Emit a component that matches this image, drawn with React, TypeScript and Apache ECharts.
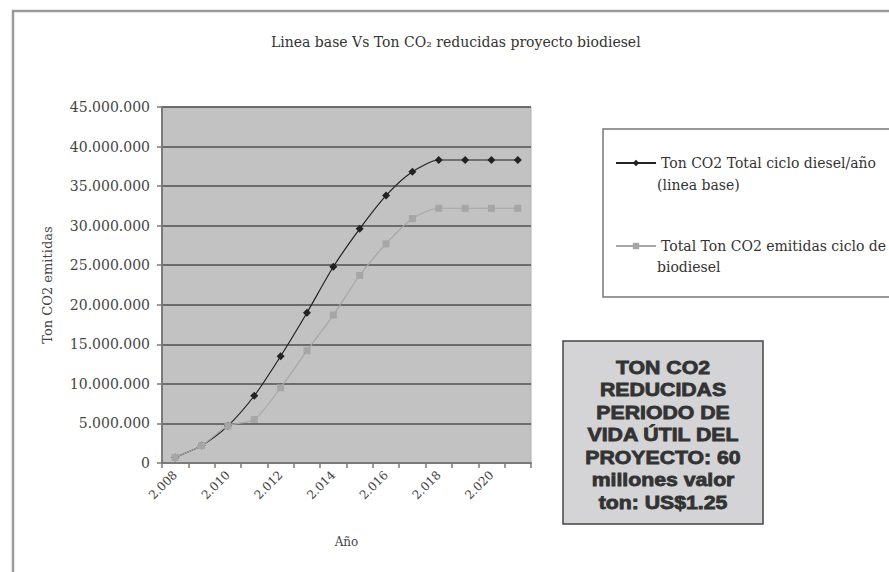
import React, { useEffect, useRef } from "react";
import * as echarts from "echarts";

const years = [2008, 2009, 2010, 2011, 2012, 2013, 2014, 2015, 2016, 2017, 2018, 2019, 2020, 2021];
const lineaBase = [700000, 2200000, 4700000, 8500000, 13500000, 19000000, 24800000, 29600000, 33800000, 36800000, 38300000, 38300000, 38300000, 38300000];
const biodiesel = [700000, 2200000, 4700000, 5500000, 9500000, 14200000, 18700000, 23700000, 27700000, 30900000, 32200000, 32200000, 32200000, 32200000];
const seriesNames = ["Ton CO2 Total ciclo diesel/año", "Total Ton CO2 emitidas ciclo de"];
const legendContinuations = ["(linea base)", "biodiesel"];
const noteLines = ["TON CO2", "REDUCIDAS", "PERIODO DE", "VIDA ÚTIL DEL", "PROYECTO: 60", "millones valor", "ton: US$1.25"];

const dots = (v: number | string) => String(v).replace(/\B(?=(\d{3})+(?!\d))/g, ".");
const SERIF = "DejaVu Serif";

export default function App() {
  const ref = useRef<HTMLDivElement>(null);
  useEffect(() => {
    if (!ref.current) return;
    const chart = echarts.init(ref.current, null, { renderer: "svg" });
    chart.setOption({
      animation: false,
      backgroundColor: "#ffffff",
      title: {
        text: "Linea base Vs Ton CO₂ reducidas proyecto biodiesel",
        left: 266,
        top: 30,
        textStyle: { fontFamily: SERIF, fontSize: 14, fontWeight: "normal", color: "#333" },
      },
      grid: {
        left: 162,
        right: 358,
        top: 107,
        bottom: 109,
        show: true,
        backgroundColor: "#c2c2c2",
        borderColor: "#b0b0b0",
        borderWidth: 1,
      },
      legend: {
        orient: "vertical",
        left: 610,
        top: 150,
        itemWidth: 40,
        itemHeight: 8,
        itemGap: 67,
        z: 10,
        data: seriesNames,
        textStyle: { fontFamily: SERIF, fontSize: 14, color: "#333", lineHeight: 16 },
      },
      xAxis: {
        type: "category",
        data: years,
        boundaryGap: true,
        name: "Año",
        nameLocation: "middle",
        nameGap: 73,
        nameTextStyle: { fontFamily: SERIF, fontSize: 12, color: "#444" },
        axisLine: { lineStyle: { color: "#7a7a7a", width: 2 } },
        axisTick: { show: true, interval: 0, length: 5, lineStyle: { color: "#7a7a7a", width: 1.5 } },
        axisLabel: {
          interval: 1,
          rotate: 45,
          margin: 10,
          fontFamily: SERIF,
          fontSize: 12,
          color: "#444",
          formatter: (v: string) => dots(v),
        },
      },
      yAxis: {
        type: "value",
        min: 0,
        max: 45000000,
        interval: 5000000,
        name: "Ton CO2 emitidas",
        nameLocation: "middle",
        nameGap: 108,
        nameTextStyle: { fontFamily: SERIF, fontSize: 13, color: "#444" },
        axisLine: { show: true, lineStyle: { color: "#7a7a7a", width: 2 } },
        axisTick: { show: true, length: 5, lineStyle: { color: "#7a7a7a", width: 1.5 } },
        axisLabel: { fontFamily: SERIF, fontSize: 14, color: "#444", margin: 12, formatter: (v: number) => dots(v) },
        splitLine: { lineStyle: { color: "#4f4f4f", width: 1.5 } },
      },
      series: [
        {
          name: seriesNames[0],
          type: "line",
          data: lineaBase,
          smooth: 0.25,
          symbol: "diamond",
          symbolSize: 8,
          lineStyle: { color: "#222", width: 1.2 },
          itemStyle: { color: "#222" },
          z: 2,
        },
        {
          name: seriesNames[1],
          type: "line",
          data: biodiesel,
          smooth: 0.25,
          symbol: "rect",
          symbolSize: 7,
          lineStyle: { color: "#a6a6a6", width: 1.2 },
          itemStyle: { color: "#a6a6a6" },
          z: 3,
        },
      ],
      graphic: [
        {
          type: "polyline",
          z: 0,
          shape: { points: [[13, 572], [13, 11], [889, 11]] },
          style: { stroke: "#9a9a9a", lineWidth: 2.5, fill: "none" },
        },
        {
          type: "rect",
          z: 1,
          shape: { x: 603, y: 129, width: 320, height: 168 },
          style: { fill: "#ffffff", stroke: "#777", lineWidth: 1.5 },
        },
        {
          type: "text",
          z: 11,
          x: 657,
          y: 185,
          style: { text: legendContinuations[0], fontFamily: SERIF, fontSize: 14, fill: "#333", textVerticalAlign: "middle" },
        },
        {
          type: "text",
          z: 11,
          x: 657,
          y: 267,
          style: { text: legendContinuations[1], fontFamily: SERIF, fontSize: 14, fill: "#333", textVerticalAlign: "middle" },
        },
        {
          type: "rect",
          z: 1,
          shape: { x: 563, y: 341, width: 200, height: 183 },
          style: { fill: "#d4d4d6", stroke: "#444", lineWidth: 1.5 },
        },
        {
          type: "text",
          z: 2,
          x: 663,
          y: 435,
          scaleX: 1.18,
          style: {
            text: noteLines.join("\n"),
            fontFamily: "Liberation Sans",
            fontWeight: "bold",
            fontSize: 18,
            lineHeight: 22.5,
            fill: "#333",
            stroke: "#333",
            lineWidth: 0.8,
            textAlign: "center",
            textVerticalAlign: "middle",
          },
        },
      ],
    });
    return () => chart.dispose();
  }, []);
  return <div ref={ref} style={{ position: "fixed", left: 0, top: 0, width: 889, height: 572 }} />;
}
